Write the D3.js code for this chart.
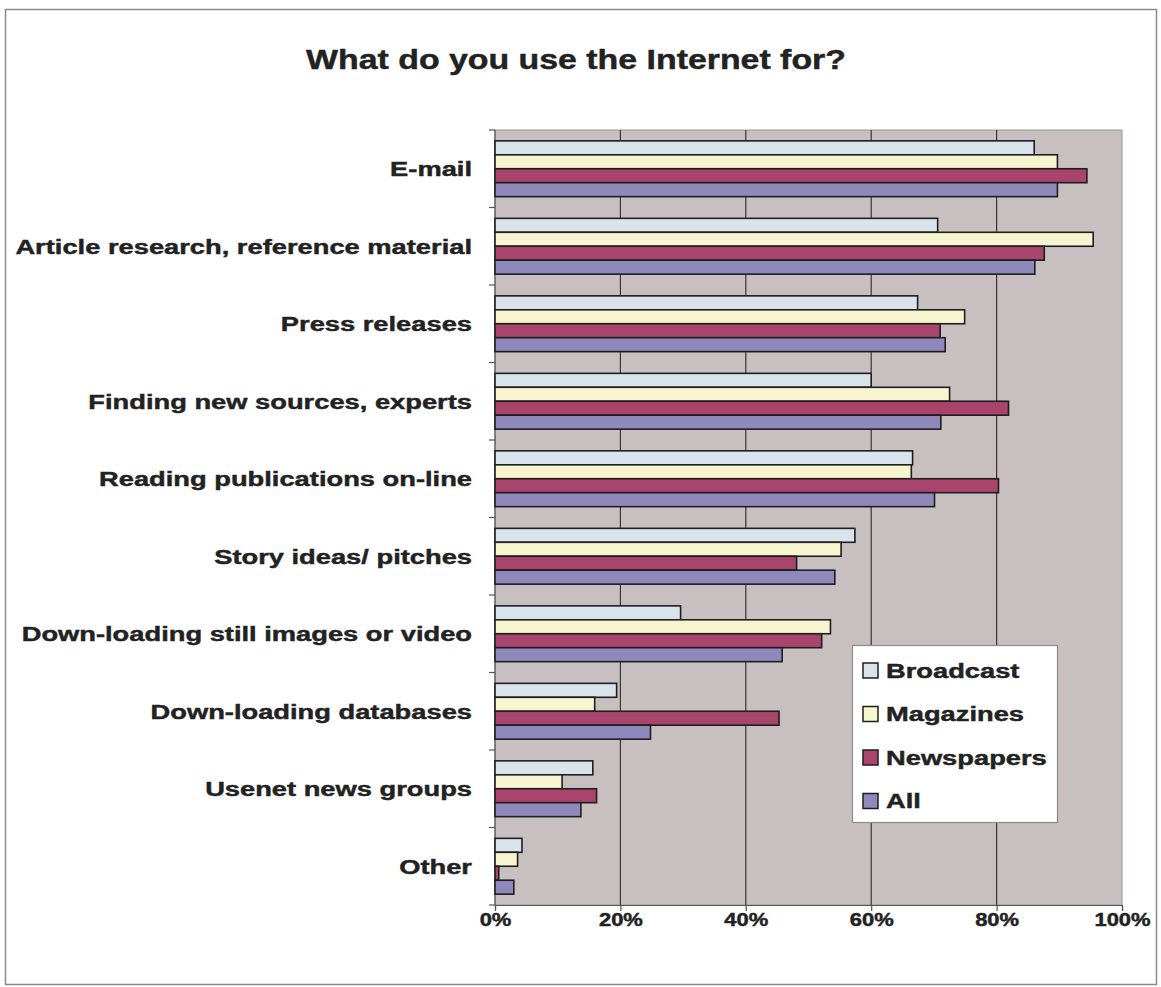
<!DOCTYPE html>
<html>
<head>
<meta charset="utf-8">
<script src="https://cdn.jsdelivr.net/npm/d3@7"></script>
<style>
  html, body { margin: 0; padding: 0; background: #ffffff; }
  svg { display: block; }
  text { font-family: "Liberation Sans", Arial, sans-serif; font-weight: bold; fill: #222222; stroke: #222222; stroke-width: 0.45px; }
</style>
</head>
<body>
<svg id="chart" width="1161" height="987"></svg>
<script>
// Survey categories, top to bottom
const categories = [
  "E-mail",
  "Article research, reference material",
  "Press releases",
  "Finding new sources, experts",
  "Reading publications on-line",
  "Story ideas/ pitches",
  "Down-loading still images or video",
  "Down-loading databases",
  "Usenet news groups",
  "Other"
];

const seriesNames = ["Broadcast", "Magazines", "Newspapers", "All"];

// Share of respondents (%) per category
const broadcast  = [86, 70.6, 67.4, 60, 66.6, 57.4, 29.6, 19.4, 15.6, 4.3];
const magazines  = [89.7, 95.4, 74.9, 72.5, 66.4, 55.2, 53.5, 15.9, 10.7, 3.6];
const newspapers = [94.4, 87.6, 71, 81.9, 80.3, 48.1, 52.1, 45.3, 16.2, 0.6];
const all        = [89.7, 86.1, 71.8, 71.1, 70.1, 54.2, 45.8, 24.8, 13.7, 3];

const tickValues = [0, 20, 40, 60, 80, 100];
const title = "What do you use the Internet for?";

const seriesValues = [broadcast, magazines, newspapers, all];
const colors = ["#d8e3ec", "#f6f5cf", "#a9446c", "#8f88bb"];

// the chart's lettering is set wide
const wide = 1.3;

const svg = d3.select("#chart");

// outer frame
svg.append("rect")
  .attr("x", 5.5).attr("y", 9.5)
  .attr("width", 1151).attr("height", 975)
  .attr("fill", "#ffffff")
  .attr("stroke", "#8a8a8a").attr("stroke-width", 1.5);

svg.append("text")
  .attr("transform", "translate(576,69) scale(1.21,1)")
  .attr("text-anchor", "middle")
  .style("font-size", "28px")
  .text(title);

const plot = { left: 495, right: 1122, top: 130, bottom: 905 };

const x = d3.scaleLinear().domain([0, 100]).range([plot.left, plot.right]);
const y = d3.scaleBand().domain(categories).range([plot.top, plot.bottom]).paddingInner(0.28).paddingOuter(0.14);
const ySub = d3.scaleBand().domain(seriesNames).range([0, y.bandwidth()]);

// plot background
svg.append("rect")
  .attr("x", plot.left).attr("y", plot.top)
  .attr("width", plot.right - plot.left).attr("height", plot.bottom - plot.top)
  .attr("fill", "#c8c0c0")
  .attr("stroke", "#9a9494").attr("stroke-width", 1);

// vertical gridlines
svg.append("g")
  .selectAll("line")
  .data(tickValues.slice(1, -1))
  .join("line")
  .attr("x1", d => x(d)).attr("x2", d => x(d))
  .attr("y1", plot.top).attr("y2", plot.bottom)
  .attr("stroke", "#3a3636").attr("stroke-width", 1.2);

// category separator ticks on the left axis
const sepPositions = d3.range(categories.length + 1).map(i => plot.top + i * (plot.bottom - plot.top) / categories.length);
svg.append("g")
  .selectAll("line")
  .data(sepPositions)
  .join("line")
  .attr("x1", plot.left - 6).attr("x2", plot.left)
  .attr("y1", d => d).attr("y2", d => d)
  .attr("stroke", "#555").attr("stroke-width", 1.2);

svg.append("line")
  .attr("x1", plot.left).attr("x2", plot.left)
  .attr("y1", plot.top).attr("y2", plot.bottom)
  .attr("stroke", "#555").attr("stroke-width", 1.2);

// bottom axis
const xAxis = d3.axisBottom(x)
  .tickValues(tickValues)
  .tickSize(6)
  .tickFormat(d => d + "%");
const gx = svg.append("g")
  .attr("transform", `translate(0,${plot.bottom})`)
  .call(xAxis);
gx.select(".domain").attr("stroke", "#555").attr("stroke-width", 1.2);
gx.selectAll(".tick line").attr("stroke", "#555").attr("stroke-width", 1.2);
gx.selectAll(".tick text")
  .attr("y", 8)
  .attr("transform", "scale(1.22,1)")
  .style("font-size", "18px")
  .style("font-family", "'Liberation Sans', Arial, sans-serif")
  .style("font-weight", "bold")
  .attr("fill", "#222222");

// category labels
svg.append("g")
  .selectAll("text")
  .data(categories)
  .join("text")
  .attr("transform", d => `translate(472,${y(d) + y.bandwidth() / 2}) scale(${wide},1)`)
  .attr("dy", "0.35em")
  .attr("text-anchor", "end")
  .style("font-size", "21px")
  .text(d => d);

// bars
seriesNames.forEach((name, si) => {
  svg.append("g")
    .selectAll("rect")
    .data(categories.map((c, i) => ({ c, v: seriesValues[si][i] })))
    .join("rect")
    .attr("x", x(0))
    .attr("y", d => y(d.c) + ySub(name))
    .attr("width", d => x(d.v) - x(0))
    .attr("height", ySub.bandwidth())
    .attr("fill", colors[si])
    .attr("stroke", "#1e1e1e")
    .attr("stroke-width", 1.6);
});

// legend
const legend = svg.append("g").attr("transform", "translate(852,645)");
legend.append("rect")
  .attr("x", 0.5).attr("y", 0.5)
  .attr("width", 205).attr("height", 177)
  .attr("fill", "#ffffff")
  .attr("stroke", "#8a8a8a").attr("stroke-width", 1.2);
const rows = legend.selectAll("g.row")
  .data(seriesNames)
  .join("g")
  .attr("class", "row")
  .attr("transform", (d, i) => `translate(0,${25 + i * 43.5})`);
rows.append("rect")
  .attr("x", 11).attr("y", -7)
  .attr("width", 15).attr("height", 15)
  .attr("fill", (d, i) => colors[i])
  .attr("stroke", "#1e1e1e").attr("stroke-width", 1.5);
rows.append("text")
  .attr("transform", `translate(34,0) scale(${wide},1)`)
  .attr("dy", "0.36em")
  .style("font-size", "21px")
  .text(d => d);
</script>
</body>
</html>
